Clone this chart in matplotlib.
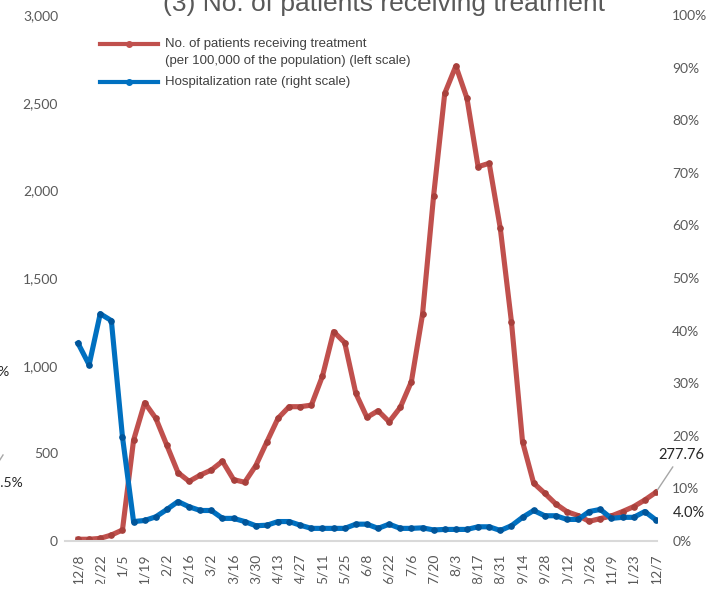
import matplotlib
matplotlib.use('Agg')
import matplotlib.pyplot as plt
from matplotlib.lines import Line2D
from matplotlib.patches import Rectangle
import numpy as np

# weekly values, 12/8 .. 12/7
patients = [10, 10, 15, 34, 63, 575, 789, 700, 545, 390,
            340, 376, 405, 455, 350, 335, 430, 566, 700, 766,
            766, 775, 941, 1194, 1131, 842, 705, 743, 680, 762,
            909, 1292, 1970, 2553, 2709, 2525, 2135, 2154, 1783, 1251,
            566, 330, 272, 211, 167, 145, 112, 128, 143, 168,
            196, 234, 277.76]
hosp_rate = [37.6, 33.5, 43.2, 41.9, 19.8, 3.7, 3.9, 4.6, 6.0, 7.5,
             6.5, 5.8, 5.8, 4.3, 4.3, 3.7, 2.9, 3.0, 3.7, 3.7,
             3.0, 2.4, 2.4, 2.4, 2.4, 3.2, 3.2, 2.4, 3.2, 2.4,
             2.4, 2.5, 2.1, 2.2, 2.2, 2.2, 2.7, 2.7, 2.0, 2.9,
             4.5, 5.8, 4.8, 4.8, 4.1, 4.1, 5.6, 6.0, 4.3, 4.5,
             4.5, 5.6, 4.0]
tick_labels = ['12/8', '12/22', '1/5', '1/19', '2/2', '2/16', '3/2', '3/16', '3/30',
               '4/13', '4/27', '5/11', '5/25', '6/8', '6/22', '7/6', '7/20', '8/3',
               '8/17', '8/31', '9/14', '9/28', '10/12', '10/26', '11/9', '11/23', '12/7']
left_ticks = [0, 500, 1000, 1500, 2000, 2500, 3000]
right_ticks = [0, 10, 20, 30, 40, 50, 60, 70, 80, 90, 100]

red = "#C0504D"
blue = "#0070C0"
grey = "#595959"
tick_font = "Lato"

x = np.arange(len(patients))

fig = plt.figure(figsize=(7.18, 5.90), dpi=100)
ax1 = fig.add_axes([65/718, 49/590, 592/718, 526/590])
ax2 = ax1.twinx()

ax1.plot(x, patients, color=red, lw=3.7, marker="o", ms=3.8, mec="#A8403C", mfc="#A8403C")
ax2.plot(x, hosp_rate, color=blue, lw=3.7, marker="o", ms=3.8, mec="#00559A", mfc="#00559A")

ax1.set_xlim(-1.17, 52.1)
ax1.set_ylim(0, 3000)
ax2.set_ylim(0, 100)

ax1.set_xticks(x[::2])
ax1.set_xticklabels(tick_labels, rotation=90, fontsize=10, color=grey, family=tick_font)
ax1.set_yticks(left_ticks)
ax1.set_yticklabels(["{:,}".format(v) for v in left_ticks], fontsize=10, color=grey, family=tick_font)
ax2.set_yticks(right_ticks)
ax2.set_yticklabels([str(v) + "%" for v in right_ticks], fontsize=10, color=grey, family=tick_font)

ax1.tick_params(axis="both", which="both", length=0)
ax1.tick_params(axis="x", pad=9)
ax1.tick_params(axis="y", pad=5)
ax2.tick_params(axis="y", length=0, pad=11)

for spine in ax1.spines.values():
    spine.set_visible(False)
for spine in ax2.spines.values():
    spine.set_visible(False)
ax1.spines["bottom"].set_visible(True)
ax1.spines["bottom"].set_color("#D9D9D9")
ax1.spines["bottom"].set_linewidth(1.5)

# labels at the last point
ax1.annotate("277.76", xy=(x[-1], patients[-1]), xytext=(18, 22), textcoords="offset points",
             ha="center", va="bottom", fontsize=10.5, color="#262626", family=tick_font,
             arrowprops=dict(arrowstyle="-", color="#A6A6A6", lw=1, shrinkA=2, shrinkB=2))
ax2.annotate("4.0%", xy=(x[-1], hosp_rate[-1]), xytext=(12, 5), textcoords="offset points",
             ha="left", va="center", fontsize=10.5, color="#262626", family=tick_font)

# legend drawn by hand so the red key sits on the first text line
legend_rows = [(red, 44, ["No. of patients receiving treatment",
                          "(per 100,000 of the population) (left scale)"]),
               (blue, 82, ["Hospitalization rate (right scale)"])]
for color, row_y, lines in legend_rows:
    fig.add_artist(Line2D([100/718, 158/718], [1 - row_y/590] * 2, color=color, lw=3,
                          transform=fig.transFigure))
    fig.add_artist(Line2D([129/718], [1 - row_y/590], color=color, marker="o", ms=4,
                          transform=fig.transFigure))
    for k, line in enumerate(lines):
        fig.text(165/718, 1 - (row_y + 17 * k)/590, line, ha="left", va="center",
                 fontsize=9.5, color="#404040", family="Liberation Sans")

# title and neighbour labels, cut by the frame of the picture
fig.text(384/718, 1 - 11/590, "(3) No. of patients receiving treatment", ha="center",
         va="baseline", fontsize=19, color=grey, family="Liberation Sans")
fig.text(10/718, 1 - 372/590, "40%", ha="right", va="center", fontsize=10, color="#262626", family=tick_font)
fig.text(24/718, 1 - 483/590, "12.5%", ha="right", va="center", fontsize=10, color="#262626", family=tick_font)
fig.add_artist(Line2D([-4/718, 3/718], [1 - 466/590, 1 - 455/590], color="#A6A6A6", lw=1,
                      transform=fig.transFigure))
fig.add_artist(Rectangle((0, 0), 1, 6/590, transform=fig.transFigure, color="white", zorder=10))

fig.savefig("out.png", dpi=100)
